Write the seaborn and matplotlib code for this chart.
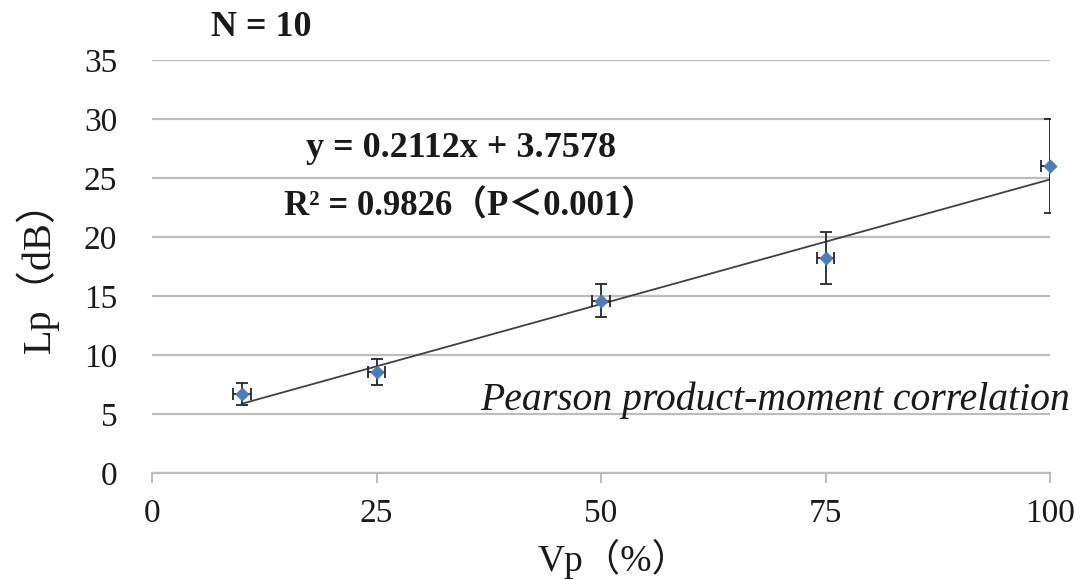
import matplotlib
matplotlib.use("Agg")
import matplotlib.pyplot as plt
import seaborn as sns
import numpy as np
import pandas as pd

# ---- data ----
vp = [10, 25, 50, 75, 100]
lp = [6.7, 8.6, 14.6, 18.2, 26.0]
lp_err = [0.9, 1.1, 1.4, 2.2, 4.0]
vp_err = [1.0, 1.0, 1.0, 1.0, 1.0]
slope = 0.2112
intercept = 3.7578
x_ticks = [0, 25, 50, 75, 100]
y_ticks = [0, 5, 10, 15, 20, 25, 30, 35]
eq_text = "y = 0.2112x + 3.7578"
r2_text = "R² = 0.9826（P＜0.001）"
n_text = "N = 10"
note_text = "Pearson product-moment correlation"
x_label = "Vp（%）"
y_label = "Lp（dB）"

sns.set_style("white")
FAM = ["Liberation Serif", "Noto Sans CJK JP", "DejaVu Sans"]
plt.rcParams["font.family"] = FAM

fig = plt.figure(figsize=(10.83, 5.8), dpi=100)
ax = fig.add_axes([152 / 1083, 1 - 473 / 580, (1050 - 152) / 1083, (473 - 60) / 580])

df = pd.DataFrame({"Vp": vp, "Lp": lp})
grid_c = "#bdbdbd"

# gridlines
ax.set_ylim(0, 35)
ax.set_xlim(0, 100)
ax.set_yticks(y_ticks)
ax.set_xticks(x_ticks)
ax.yaxis.grid(True, color=grid_c, linewidth=1.6)
ax.set_axisbelow(True)

# trend line
x_line = np.array([min(vp), max(vp)], dtype=float)
y_line = slope * x_line + intercept
sns.lineplot(x=x_line, y=y_line, ax=ax, color="#404040", linewidth=1.3, zorder=3)

# error bars
ax.errorbar(vp, lp, yerr=lp_err, xerr=vp_err, fmt="none", ecolor="#262626",
            elinewidth=1.3, capsize=4, capthick=1.3, zorder=4)

# markers
sns.scatterplot(data=df, x="Vp", y="Lp", ax=ax, marker="D", s=45,
                color="#4a7ebb", edgecolor="#4a7ebb", linewidth=0.5,
                zorder=5, clip_on=False)

for s in ["top", "right", "left"]:
    ax.spines[s].set_visible(False)
ax.spines["bottom"].set_color(grid_c)
ax.spines["bottom"].set_linewidth(1.6)
ax.tick_params(axis="x", length=7, width=1.4, color=grid_c, direction="out",
               labelsize=24, pad=11, bottom=True)
ax.tick_params(axis="y", length=0, labelsize=24, pad=25)
for lab in ax.get_xticklabels() + ax.get_yticklabels():
    lab.set_color("#1a1a1a")

ax.set_xlabel(x_label, fontsize=27, color="#1a1a1a")
ax.xaxis.label.set_va("baseline")
ax.xaxis.set_label_coords((614 - 152) / 898, (473 - 571) / 413)
ax.set_ylabel(y_label, fontsize=29, labelpad=18, color="#1a1a1a")

# annotations
fig.text(261 / 1083, 1 - 28 / 580, n_text, fontsize=26, fontweight="bold",
         ha="center", va="center", color="#1a1a1a")
fig.text(461 / 1083, 1 - 148 / 580, eq_text, fontsize=26, fontweight="bold",
         ha="center", va="center", color="#1a1a1a")
fig.text(470 / 1083, 1 - 207 / 580, r2_text, fontsize=25, fontweight="bold",
         ha="center", va="center", color="#1a1a1a")
fig.text(1070 / 1083, 1 - 400 / 580, note_text, fontsize=28.5, style="italic",
         ha="right", va="center", color="#1a1a1a")

fig.savefig("out.png", dpi=100)
